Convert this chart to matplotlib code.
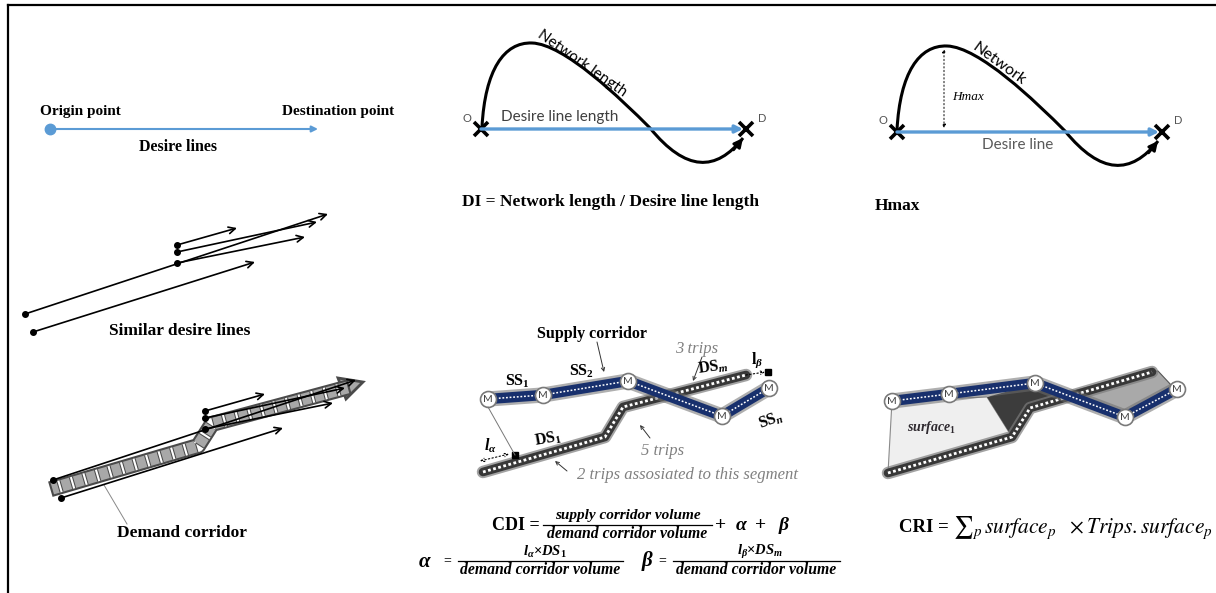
import matplotlib.pyplot as plt
from matplotlib.path import Path
from matplotlib.patches import PathPatch, Polygon

plt.rcParams['mathtext.fontset'] = 'custom'
plt.rcParams['mathtext.rm'] = 'Liberation Serif:bold'
plt.rcParams['mathtext.it'] = 'Liberation Serif:italic:bold'
plt.rcParams['mathtext.bf'] = 'Liberation Serif:bold'
plt.rcParams['lines.scale_dashes'] = False

SERIF = 'Liberation Serif'
SANS = 'Lato'
BLUE = '#5b9bd5'
NAVY = '#18306d'

# geometry in canvas pixels (1216 x 593, y downwards)
od_line = [(50, 129), (318, 129)]

net_curve = [(482, 127), (485, 70), (504, 42), (532, 43),
             (564, 44), (620, 98), (650, 128),
             (686, 172), (716, 172), (743, 138)]
di_shift = (0, 0)
hmax_shift = (415, 3)
di_od = [(481, 129), (746, 129)]
hmax_od = [(897, 132), (1162, 132)]

sim_start = [(25, 314), (33, 332), (177, 245), (177, 252), (177, 263)]
sim_end = [(328, 214), (255, 262), (237, 228), (317, 222), (305, 237)]
corr_shift = (28, 166)
demand_band = [(58, 487), (198, 446), (212, 424), (342, 389)]
demand_head = [(363, 382), (346, 399), (338, 378)]

supply_mid = [(488, 399), (543, 395), (628, 381), (722, 416), (769, 388)]
demand_mid = [(483, 472), (605, 437), (623, 407), (746, 375)]

supply_cri = [(892, 401), (949, 394), (1035, 383), (1125, 417), (1177, 389)]
demand_cri = [(888, 473), (1012, 437), (1030, 408), (1152, 372)]
surf_light = [(892, 401), (987, 397), (1012, 437), (888, 473)]
surf_dark = [(987, 397), (1035, 384), (1060, 394), (1030, 408), (1012, 437)]
surf_mid = [(1062, 394), (1143, 372), (1158, 371), (1172, 386), (1125, 414)]

fig = plt.figure(figsize=(12.16, 5.93), dpi=100)
ax = fig.add_axes([0, 0, 1, 1])
ax.set_xlim(0, 1216)
ax.set_ylim(593, 0)
ax.axis('off')


def line(pts, **kw):
    xs, ys = zip(*pts)
    return ax.plot(xs, ys, **kw)


def arrow(p0, p1, **kw):
    props = dict(arrowstyle='->', color='black', lw=1.2, mutation_scale=12,
                 shrinkA=0, shrinkB=0)
    props.update(kw)
    ax.annotate('', xy=p1, xytext=p0, arrowprops=props)


def network(shift):
    dx, dy = shift
    verts = [(x + dx, y + dy) for x, y in net_curve]
    codes = [Path.MOVETO] + [Path.CURVE4] * 9
    ax.add_patch(PathPatch(Path(verts, codes), fc='none', ec='black', lw=2.2))
    (ex, ey), (cx, cy) = verts[-1], verts[-2]
    arrow((ex - 0.35 * (ex - cx), ey - 0.35 * (ey - cy)), (ex, ey),
          arrowstyle='-|>', lw=2, mutation_scale=13)


def od_pair(pts):
    (x0, y0), (x1, y1) = pts
    arrow((x0, y0), (x1 - 3, y1), arrowstyle='-|>', color=BLUE, lw=2.4,
          mutation_scale=11)
    ax.plot([x0, x1], [y0, y1], 'x', color='black', ms=10, mew=2.6)
    ax.text(x0 - 14, y0 - 11, 'O', fontsize=8, color='#555555', family=SANS,
            ha='center', va='center')
    ax.text(x1 + 16, y1 - 11, 'D', fontsize=8, color='#555555', family=SANS,
            ha='center', va='center')


def supply(pts):
    line(pts, color='#6d6d6d', lw=11, alpha=0.55, solid_capstyle='round',
         solid_joinstyle='round')
    line(pts, color=NAVY, lw=7.5, solid_joinstyle='miter')
    line(pts, color='white', lw=1.1, dashes=(1.3, 1.3))
    xs, ys = zip(*pts)
    ax.plot(xs, ys, 'o', ms=11.5, mfc='white', mec='#7a7a7a', mew=1.2, ls='none')
    for x, y in pts:
        ax.text(x, y + 0.5, 'M', ha='center', va='center', fontsize=7.5,
                color='#404040', family=SANS)


def demand_dark(pts):
    line(pts, color='#7c7c7c', lw=9, alpha=0.7, solid_capstyle='round')
    line(pts, color='#383838', lw=6.2, solid_capstyle='round')
    line(pts, color='white', lw=2, dashes=(2, 1.8))


def fraction(x0, x1, y, num, den, num_size, den_size, num_dy, den_dy):
    ax.plot([x0, x1], [y, y], color='black', lw=0.9)
    xc = (x0 + x1) / 2
    ax.text(xc, y - num_dy, num, fontsize=num_size, ha='center', va='center',
            family=SERIF, weight='bold', style='italic')
    ax.text(xc, y + den_dy, den, fontsize=den_size, ha='center', va='center',
            family=SERIF, weight='bold', style='italic')


# frame
ax.plot([8, 8], [5, 593], color='black', lw=1.6)
ax.plot([8, 1215], [5, 5], color='black', lw=1.6)

# panel 1: desire line
arrow(od_line[0], od_line[1], arrowstyle='-|>', color=BLUE, lw=1.5,
      mutation_scale=9)
ax.plot(*od_line[0], 'o', color=BLUE, ms=7.5)
ax.text(80, 111, 'Origin point', family=SERIF, weight='bold', fontsize=11,
        ha='center', va='center')
ax.text(338, 111, 'Destination point', family=SERIF, weight='bold',
        fontsize=11, ha='center', va='center')
ax.text(178, 147, 'Desire lines', family=SERIF, weight='bold', fontsize=11.5,
        ha='center', va='center')

# panel 2: DI
network(di_shift)
od_pair(di_od)
ax.text(560, 117, 'Desire line length', family=SANS, fontsize=11,
        color='#3f3f3f', ha='center', va='center')
ax.text(582, 63, 'Network length', family=SANS, fontsize=11, rotation=-35,
        ha='center', va='center', rotation_mode='anchor')
ax.text(610, 202, 'DI = Network length / Desire line length', family=SERIF,
        weight='bold', fontsize=12.5, ha='center', va='center')

# panel 3: Hmax
network(hmax_shift)
od_pair(hmax_od)
arrow((944, 128), (944, 49), arrowstyle='<|-|>', lw=0.7, ls=':',
      mutation_scale=5)
ax.text(968, 97, 'Hmax', family=SERIF, style='italic', fontsize=9.5,
        ha='center', va='center')
ax.text(999, 64, 'Network', family=SANS, fontsize=11.5, rotation=-36,
        ha='center', va='center', rotation_mode='anchor')
ax.text(1018, 145, 'Desire line', family=SANS, fontsize=11,
        color='#595959', ha='center', va='center')
ax.text(875, 206, 'Hmax', family=SERIF, weight='bold', fontsize=12.5,
        ha='left', va='center')

# panel 4/5: similar desire lines and demand corridor
line(demand_band, color='#4a4a4a', lw=11.5, solid_joinstyle='round')
ax.add_patch(Polygon(demand_head, closed=True, fc='#a8a8a8', ec='#4a4a4a',
                     lw=2))
line(demand_band, color='#a8a8a8', lw=8.5, solid_joinstyle='round')
line(demand_band, color='#4a4a4a', lw=8.5, ls=(0, (3, 6.4)))
line(demand_band, color='white', lw=8.5, ls=(8.65, (1.5, 7.9)))
for (x0, y0), (x1, y1) in zip(sim_start, sim_end):
    for dx, dy in [(0, 0), corr_shift]:
        arrow((x0 + dx, y0 + dy), (x1 + dx, y1 + dy))
        ax.plot(x0 + dx, y0 + dy, 'o', color='black', ms=4)
ax.text(180, 331, 'Similar desire lines', family=SERIF, weight='bold',
        fontsize=12.5, ha='center', va='center')
ax.plot([104, 127], [485, 524], color='#888888', lw=0.7)
ax.text(182, 533, 'Demand corridor', family=SERIF, weight='bold',
        fontsize=12.5, ha='center', va='center')

# panel 6: CDI
demand_dark(demand_mid)
supply(supply_mid)
ax.plot([515, 768], [455, 372], 's', color='black', ms=5, ls='none')
ax.plot([488, 515], [407, 455], color='#777777', lw=0.7)
arrow((480, 461), (509, 454), arrowstyle='<->', lw=0.8, ls=':',
      mutation_scale=6)
arrow((746, 375), (765, 372), arrowstyle='->', lw=0.8, ls=':',
      mutation_scale=6)
ax.text(592, 334, 'Supply corridor', family=SERIF, weight='bold',
        fontsize=11.5, ha='center', va='center')
arrow((597, 342), (604, 372), lw=0.7, color='#333333', mutation_scale=6)
ax.text(697, 349, '3 trips', family=SERIF, style='italic', fontsize=12,
        color='#808080', ha='center', va='center')
arrow((702, 357), (693, 381), lw=0.7, color='#333333', mutation_scale=6)
ax.text(663, 451, '5 trips', family=SERIF, style='italic', fontsize=12,
        color='#808080', ha='center', va='center')
arrow((650, 438), (640, 425), lw=0.7, color='#333333', mutation_scale=6)
ax.text(577, 475, '2 trips assosiated to this segment', family=SERIF,
        style='italic', fontsize=12, color='#808080', ha='left', va='center')
arrow((567, 471), (555, 461), lw=0.7, color='#333333', mutation_scale=6)
ax.text(517, 381, r'$\mathrm{SS}_1$', fontsize=11.5, ha='center', va='center')
ax.text(582, 371, r'$\mathrm{SS}_2$', fontsize=11.5, ha='center', va='center')
ax.text(771, 420, r'$\mathrm{SS}_n$', fontsize=11.5, ha='center',
        va='center', rotation=20)
ax.text(713, 367, r'$\mathrm{DS}_m$', fontsize=11.5, ha='center',
        va='center', rotation=8)
ax.text(548, 439, r'$\mathrm{DS}_1$', fontsize=11.5, ha='center',
        va='center', rotation=10)
ax.text(757, 360, r'$\mathrm{l}_\beta$', fontsize=11.5, ha='center',
        va='center')
ax.text(490, 446, r'$l_\alpha$', fontsize=11.5, ha='center', va='center')

# CDI formulas
ax.text(492, 525, 'CDI =', family=SERIF, weight='bold', fontsize=13,
        ha='left', va='center')
fraction(543, 712, 525, 'supply corridor volume', 'demand corridor volume',
         11, 11.3, 9, 9)
ax.text(714, 525, r'$+\ \ \alpha\ +\ \ \beta$', fontsize=14, ha='left',
        va='center')

ax.text(425, 561, r'$\alpha$', fontsize=15, ha='center', va='center')
ax.text(447, 561, '=', family=SERIF, fontsize=10, ha='center', va='center')
fraction(458, 623, 561, '', 'demand corridor volume', 10, 11.3, 8, 9)
ax.text(545, 552, r'$l_\alpha{\times}DS_1$', fontsize=10.5, ha='center',
        va='center')
ax.text(648, 561, r'$\beta$', fontsize=15, ha='center', va='center')
ax.text(662, 561, '=', family=SERIF, fontsize=10, ha='center', va='center')
fraction(673, 840, 561, '', 'demand corridor volume', 10, 11.3, 8, 9)
ax.text(760, 552, r'$l_\beta{\times}DS_m$', fontsize=10.5, ha='center',
        va='center')

# panel 7: CRI
ax.add_patch(Polygon(surf_light, closed=True, fc='#efefef', ec='#8a8a8a',
                     lw=0.8))
ax.add_patch(Polygon(surf_dark, closed=True, fc='#3c3c3c', ec='none'))
ax.add_patch(Polygon(surf_mid, closed=True, fc='#a9a9a9', ec='#555555',
                     lw=0.8))
demand_dark(demand_cri)
supply(supply_cri)
ax.text(931, 427, r'$surface_1$', fontsize=10, color='#2f2a30', ha='center',
        va='center')
ax.text(899, 528, 'CRI =', family=SERIF, weight='bold', fontsize=13.5,
        ha='left', va='center')
ax.text(953, 528, r'$∑_p\, surface_p\ \ \times Trips.surface_p$',
        math_fontfamily='stix', fontsize=15.5, ha='left', va='center')

fig.savefig('out.png', dpi=100)
